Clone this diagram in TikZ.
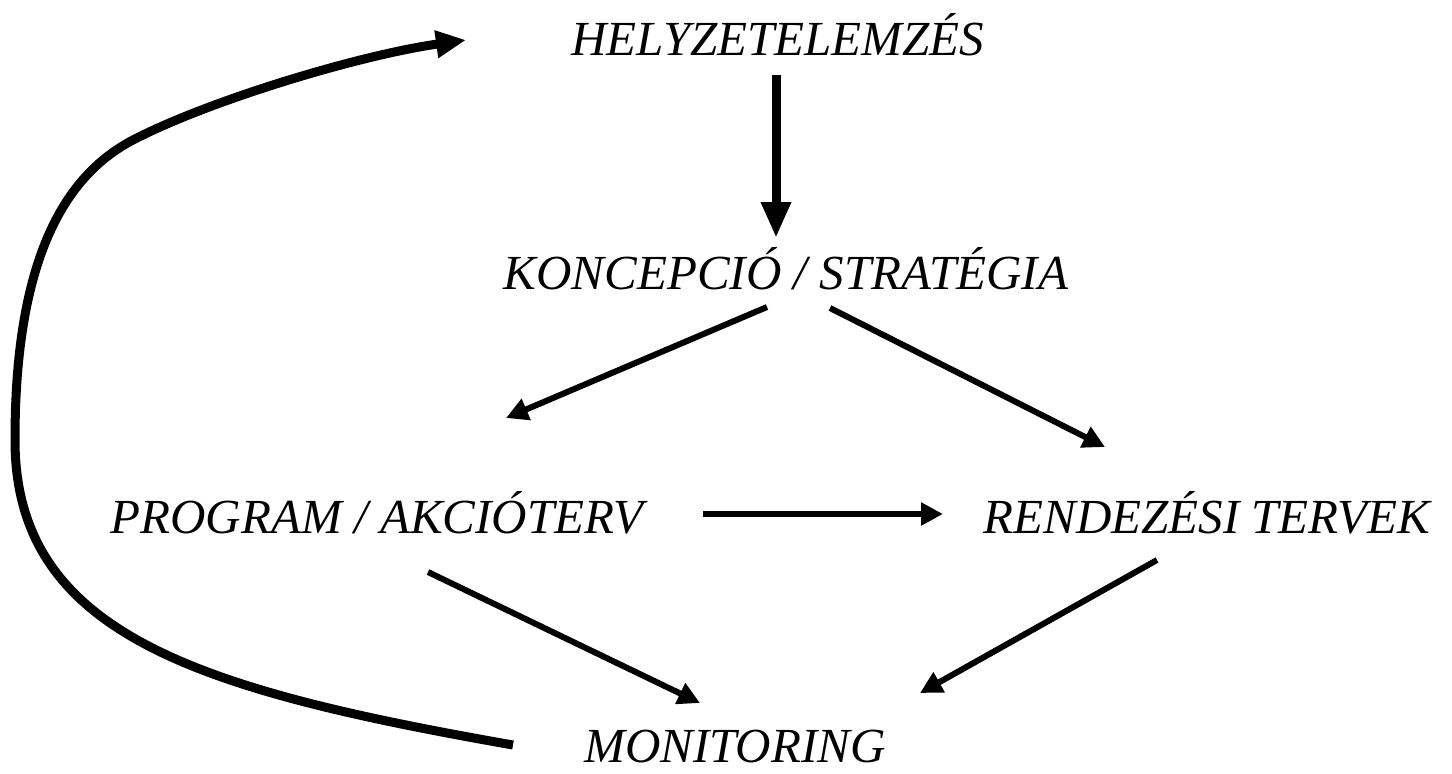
\documentclass[tikz,border=0pt]{standalone}
\usepackage{fontspec}
\setmainfont{Liberation Serif}
\usetikzlibrary{arrows.meta}
\tikzset{
  lbl/.style={font=\fontsize{24.5}{30}\selectfont\itshape, inner sep=0pt, anchor=base},
  thin arrow/.style={line width=3pt, -{Triangle[length=11pt,width=11pt]}},
  bold arrow/.style={line width=4.5pt, -{Triangle[length=18pt,width=14pt]}},
  loop arrow/.style={line width=4.5pt, -{Triangle[length=15pt,width=13pt]}}
}
\begin{document}
\begin{tikzpicture}[x=0.5pt,y=-0.5pt]
\useasboundingbox (0,0) rectangle (1452,773);
\node[lbl] (hely) at (778,55) {HELYZETELEMZÉS};
\node[lbl] (konc) at (786,289) {KONCEPCIÓ / STRATÉGIA};
\node[lbl] (prog) at (377,533) {PROGRAM / AKCIÓTERV};
\node[lbl] (rend) at (1207,533) {RENDEZÉSI TERVEK};
\node[lbl] (moni) at (735,762) {MONITORING};
% connector ends
\coordinate (h1) at (776,75);
\coordinate (k0) at (776,238);
\coordinate (k1) at (767,307);
\coordinate (p0) at (506,418);
\coordinate (k2) at (830,308);
\coordinate (r0) at (1105,447);
\coordinate (p1) at (703,514);
\coordinate (r1) at (943,514);
\coordinate (p2) at (428,572);
\coordinate (m0) at (700,703);
\coordinate (r2) at (1157,560);
\coordinate (m1) at (920,693);
\coordinate (m2) at (513,745);
\coordinate (h0) at (466,40);
\coordinate (lft) at (15,440);
\coordinate (bend) at (133,140);
\draw[bold arrow] (h1) -- (k0);
\draw[thin arrow] (k1) -- (p0);
\draw[thin arrow] (k2) -- (r0);
\draw[thin arrow] (p1) -- (r1);
\draw[thin arrow] (p2) -- (m0);
\draw[thin arrow] (r2) -- (m1);
\draw[loop arrow] (m2) .. controls (200,690) and (15,635) .. (lft)
  .. controls (15,260) and (64,176) .. (bend)
  .. controls (210,100) and (360,55) .. (h0);
\end{tikzpicture}
\end{document}
